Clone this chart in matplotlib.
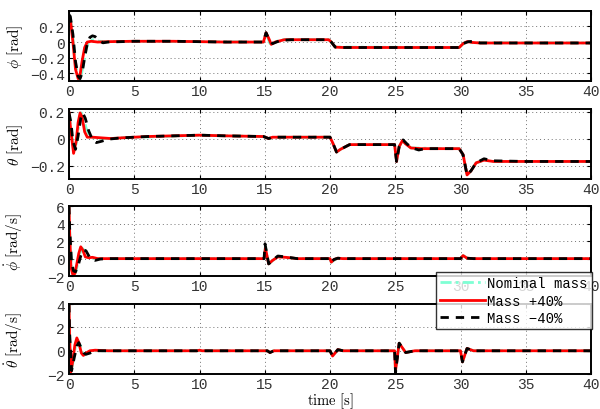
import matplotlib
matplotlib.use('Agg')
import matplotlib.pyplot as plt

plt.rcParams['mathtext.fontset'] = 'cm'

# time ticks
xticks = [0, 5, 10, 15, 20, 25, 30, 35, 40]

# --- phi [rad] ---
phi_t_red = [0, 0.1, 0.3, 0.5, 0.7, 0.85, 1.0, 1.2, 1.4, 1.7, 2.2, 3, 5, 8, 10, 12, 14.9, 15.1, 15.3, 15.5, 15.8, 16.5, 18, 19.9, 20.1, 20.4, 21, 25, 29.9, 30.2, 30.5, 30.9, 31.5, 35, 40]
phi_red = [0.33, 0.3, 0.0, -0.35, -0.47, -0.42, -0.25, -0.07, 0.0, 0.01, 0.0, 0.005, 0.01, 0.01, 0.005, 0.0, 0.0, 0.12, 0.05, -0.03, 0.0, 0.03, 0.03, 0.03, 0.0, -0.065, -0.07, -0.07, -0.07, -0.02, 0.005, -0.005, -0.012, -0.012, -0.012]
phi_t_blk = [0, 0.1, 0.3, 0.5, 0.7, 0.85, 1.0, 1.2, 1.4, 1.6, 1.8, 2.0, 2.3, 2.6, 3, 5, 8, 10, 12, 14.9, 15.1, 15.3, 15.6, 16.2, 17, 18, 19.9, 20.1, 20.4, 21, 25, 29.9, 30.2, 30.6, 31.0, 31.5, 35, 40]
phi_blk = [0.35, 0.33, 0.1, -0.25, -0.44, -0.47, -0.4, -0.2, -0.02, 0.06, 0.08, 0.07, 0.02, -0.01, 0.0, 0.01, 0.01, 0.005, 0.0, 0.0, 0.12, 0.04, -0.02, 0.02, 0.03, 0.03, 0.03, 0.0, -0.065, -0.07, -0.07, -0.07, -0.02, 0.005, 0.01, -0.012, -0.012, -0.012]
phi_t_nom = [0, 0.1, 0.3, 0.5, 0.75, 0.9, 1.1, 1.3, 1.5, 1.8, 2.3, 3, 5, 10, 14.9, 15.1, 15.4, 16.3, 19.9, 20.1, 20.4, 29.9, 30.3, 31, 40]
phi_nom = [0.34, 0.31, 0.05, -0.3, -0.46, -0.44, -0.3, -0.1, 0.0, 0.03, 0.01, 0.005, 0.01, 0.005, 0.0, 0.12, -0.02, 0.03, 0.03, 0.0, -0.065, -0.07, -0.01, -0.008, -0.012]

# --- theta [rad] ---
th_t_red = [0, 0.15, 0.35, 0.55, 0.7, 0.85, 1.0, 1.2, 1.4, 1.8, 2.5, 3.2, 4, 6, 8, 10, 12, 14.9, 15.3, 15.6, 16.2, 18, 20.0, 20.2, 20.5, 20.8, 21.5, 23, 24.95, 25.1, 25.3, 25.55, 25.8, 26.2, 27, 29.9, 30.2, 30.5, 30.8, 31.2, 31.8, 32.5, 35, 40]
th_red = [0.19, 0.05, -0.11, -0.02, 0.12, 0.19, 0.16, 0.05, 0.01, 0.01, 0.005, 0.0, 0.005, 0.015, 0.02, 0.025, 0.02, 0.015, 0.0, 0.01, 0.01, 0.01, 0.01, -0.03, -0.1, -0.08, -0.045, -0.045, -0.045, -0.17, -0.06, -0.015, -0.04, -0.07, -0.075, -0.075, -0.12, -0.27, -0.24, -0.18, -0.16, -0.17, -0.17, -0.17]
th_t_blk = [0, 0.15, 0.3, 0.5, 0.7, 0.9, 1.05, 1.25, 1.5, 1.8, 2.1, 2.5, 3, 4, 6, 8, 10, 12, 14.9, 15.3, 15.6, 16.2, 18, 20.0, 20.2, 20.5, 20.8, 21.5, 23, 24.95, 25.1, 25.3, 25.6, 25.9, 26.3, 26.8, 27.3, 29.9, 30.2, 30.5, 30.8, 31.2, 31.8, 32.5, 35, 40]
th_blk = [0.19, 0.12, -0.02, -0.08, 0.02, 0.15, 0.19, 0.15, 0.06, -0.01, -0.03, -0.02, -0.005, 0.005, 0.015, 0.02, 0.025, 0.02, 0.015, 0.0, 0.01, 0.01, 0.01, 0.01, -0.03, -0.1, -0.08, -0.045, -0.045, -0.045, -0.17, -0.06, -0.01, -0.04, -0.07, -0.085, -0.075, -0.075, -0.12, -0.27, -0.24, -0.18, -0.15, -0.165, -0.17, -0.17]
th_t_nom = [0, 0.15, 0.35, 0.55, 0.75, 0.95, 1.1, 1.3, 1.6, 2.0, 2.6, 3.2, 4, 10, 14.9, 15.3, 16, 20.0, 20.2, 20.5, 20.8, 21.5, 24.95, 25.1, 25.3, 25.55, 25.8, 26.2, 29.9, 30.2, 30.5, 30.8, 31.2, 31.8, 32.5, 40]
th_nom = [0.19, 0.07, -0.09, -0.04, 0.1, 0.19, 0.17, 0.08, 0.02, 0.0, 0.0, 0.0, 0.005, 0.025, 0.015, 0.0, 0.01, 0.01, -0.03, -0.1, -0.08, -0.045, -0.045, -0.17, -0.06, -0.015, -0.04, -0.07, -0.075, -0.12, -0.27, -0.24, -0.18, -0.16, -0.17, -0.17]

# --- phi dot [rad/s] ---
pd_t_red = [0, 0.05, 0.15, 0.3, 0.45, 0.6, 0.75, 0.9, 1.05, 1.25, 1.5, 1.8, 2.2, 3, 14.95, 15.05, 15.3, 15.6, 16, 16.6, 17.5, 20.0, 20.1, 20.3, 20.6, 21, 30.0, 30.2, 30.5, 31, 40]
pd_red = [6, 3, -1.0, -1.9, -1.7, -0.6, 0.6, 1.35, 1.0, 0.2, 0.1, 0.15, 0.0, 0.0, 0.0, 1.2, -0.6, -0.2, 0.2, 0.15, 0.0, 0.0, -0.4, -0.1, 0.05, 0.0, 0.0, 0.35, 0.05, 0.0, 0.0]
pd_t_blk = [0, 0.05, 0.2, 0.35, 0.5, 0.7, 0.9, 1.1, 1.3, 1.6, 2.0, 2.4, 3, 14.95, 15.02, 15.3, 15.6, 16, 16.6, 17.5, 20.0, 20.1, 20.3, 20.6, 21, 30.0, 30.2, 30.5, 31, 40]
pd_blk = [6, 3.5, -0.5, -1.4, -1.5, -0.8, 0.3, 1.0, 0.9, 0.1, -0.2, -0.05, 0.0, 0.0, 1.7, -0.6, -0.2, 0.3, 0.2, 0.0, 0.0, -0.4, -0.1, 0.05, 0.0, 0.0, 0.35, 0.05, 0.0, 0.0]
pd_t_nom = [0, 0.05, 0.2, 0.35, 0.5, 0.65, 0.8, 1.0, 1.2, 1.5, 1.9, 2.3, 3, 14.95, 15.05, 15.3, 16, 17.5, 20.0, 20.1, 20.5, 30.0, 30.2, 30.6, 40]
pd_nom = [6, 3.2, -0.8, -1.7, -1.6, -0.7, 0.5, 1.2, 0.9, 0.15, 0.0, 0.0, 0.0, 0.0, 1.4, -0.6, 0.25, 0.0, 0.0, -0.4, 0.0, 0.0, 0.35, 0.0, 0.0]

# --- theta dot [rad/s] ---
td_t_red = [0, 0.05, 0.15, 0.3, 0.45, 0.6, 0.75, 0.95, 1.1, 1.3, 1.6, 2.0, 3, 9.8, 10.0, 10.2, 15.2, 15.4, 15.7, 20.0, 20.2, 20.6, 21, 24.95, 25.02, 25.3, 25.8, 26.5, 30.0, 30.15, 30.5, 31, 40]
td_red = [4, 1, -1.8, -0.8, 0.5, 1.1, 0.7, -0.2, -0.4, -0.2, 0.0, 0.05, 0.0, 0.0, 0.05, 0.0, 0.0, -0.15, 0.0, 0.0, -0.45, 0.1, 0.0, 0.0, -1.7, 0.65, -0.15, 0.0, 0.0, -0.95, 0.2, 0.0, 0.0]
td_t_blk = [0, 0.05, 0.2, 0.4, 0.6, 0.75, 0.95, 1.15, 1.3, 1.6, 2.0, 3, 9.8, 10.0, 10.2, 15.2, 15.4, 15.7, 20.0, 20.2, 20.6, 21, 24.95, 25.02, 25.3, 25.8, 26.5, 30.0, 30.15, 30.5, 31, 40]
td_blk = [4, 1.5, -1.7, -0.6, 0.4, 0.7, 0.2, -0.2, -0.3, -0.2, 0.0, 0.0, 0.0, 0.05, 0.0, 0.0, -0.15, 0.0, 0.0, -0.45, 0.1, 0.0, 0.0, -1.9, 0.65, -0.15, 0.0, 0.0, -0.95, 0.2, 0.0, 0.0]
td_t_nom = [0, 0.05, 0.18, 0.35, 0.5, 0.68, 0.85, 1.05, 1.2, 1.5, 2.0, 3, 20.0, 20.2, 20.6, 21, 24.95, 25.02, 25.3, 25.8, 26.5, 30.0, 30.15, 30.5, 31, 40]
td_nom = [4, 1.2, -1.75, -0.7, 0.45, 0.9, 0.5, -0.2, -0.35, -0.1, 0.0, 0.0, 0.0, -0.45, 0.1, 0.0, 0.0, -1.8, 0.65, -0.15, 0.0, 0.0, -0.95, 0.2, 0.0, 0.0]

panels = [
    (phi_t_nom, phi_nom, phi_t_red, phi_red, phi_t_blk, phi_blk, (-0.5, 0.4), [-0.4, -0.2, 0, 0.2], ['\u22120.4', '\u22120.2', '0', '0.2'], r'$\phi\ \mathrm{[rad]}$'),
    (th_t_nom, th_nom, th_t_red, th_red, th_t_blk, th_blk, (-0.3, 0.22), [-0.2, 0, 0.2], ['\u22120.2', '0', '0.2'], r'$\theta\ \mathrm{[rad]}$'),
    (pd_t_nom, pd_nom, pd_t_red, pd_red, pd_t_blk, pd_blk, (-2, 6), [-2, 0, 2, 4, 6], ['\u22122', '0', '2', '4', '6'], r'$\dot{\phi}\ \mathrm{[rad/s]}$'),
    (td_t_nom, td_nom, td_t_red, td_red, td_t_blk, td_blk, (-2, 4), [-2, 0, 2, 4], ['\u22122', '0', '2', '4'], r'$\dot{\theta}\ \mathrm{[rad/s]}$'),
]

fig = plt.figure(figsize=(6.0, 4.1), dpi=100)
bottoms = [0.800, 0.561, 0.324, 0.085]
mono = 'Liberation Mono'

for i, (tn, vn, tr, vr, tb, vb, ylim, yt, ytl, ylab) in enumerate(panels):
    ax = fig.add_axes([0.115, bottoms[i], 0.87, 0.171])
    ln_nom, = ax.plot(tn, vn, color='#7FFFD4', lw=2, ls=(0, (4, 1.5, 1, 1.5)), label='Nominal mass')
    ln_red, = ax.plot(tr, vr, color='red', lw=2, label='Mass +40%')
    ln_blk, = ax.plot(tb, vb, color='black', lw=2, ls=(0, (3, 2.5)), label='Mass \u221240%')
    ax.set_xlim(0, 40)
    ax.set_ylim(*ylim)
    ax.set_xticks(xticks)
    ax.set_yticks(yt)
    ax.set_yticklabels(ytl)
    for lab in ax.get_xticklabels() + ax.get_yticklabels():
        lab.set_fontfamily(mono)
        lab.set_fontsize(10.5)
        lab.set_color('#333333')
    ax.tick_params(direction='in', top=True, right=True, length=3, width=0.8, pad=3)
    ax.tick_params(axis='x', pad=2)
    ax.grid(True, color='0.45', ls=(0, (1, 3)), lw=0.7)
    for s in ax.spines.values():
        s.set_linewidth(1.4)
    ax.set_ylabel(ylab, fontsize=11, labelpad=2)
    ax.yaxis.set_label_coords(-0.085, 0.5)
    if i == 3:
        ax.set_xlabel(r'$\mathrm{time\ [s]}$', fontsize=10.5)
        ax.xaxis.set_label_coords(0.5, -0.235)

leg = fig.legend([ln_nom, ln_red, ln_blk], ['Nominal mass', 'Mass +40%', 'Mass \u221240%'],
                 loc='upper right', bbox_to_anchor=(592 / 600, 1 - 273 / 410),
                 prop={'family': mono, 'size': 10}, frameon=True, fancybox=False,
                 handlelength=3.2, handletextpad=0.2, borderpad=0.3, labelspacing=0.25,
                 borderaxespad=0)
leg.get_frame().set_edgecolor('black')
leg.get_frame().set_linewidth(1.0)

fig.savefig('out.png', dpi=100)
